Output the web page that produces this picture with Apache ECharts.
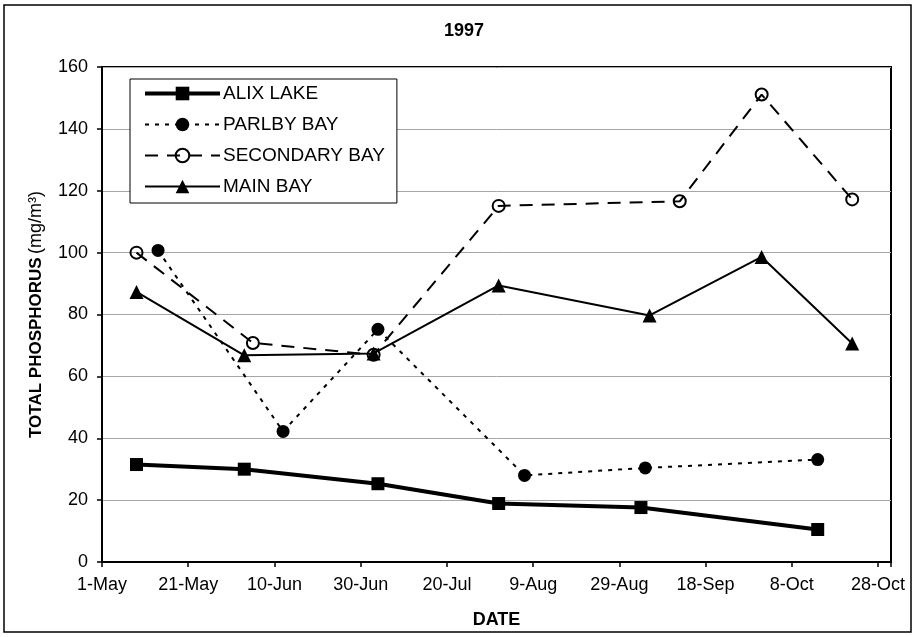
<!DOCTYPE html>
<html>
<head>
<meta charset="utf-8">
<title>1997 Total Phosphorus</title>
<script src="https://cdn.jsdelivr.net/npm/echarts@6/dist/echarts.min.js"></script>
<style>
  html, body { margin: 0; padding: 0; background: #fff; }
  #chart { width: 916px; height: 637px; }
</style>
</head>
<body>
<div id="chart"></div>
<script>
// datos (fechas 1997, valores en mg/m3)
const alixDates = ['1997-05-09', '1997-06-03', '1997-07-04', '1997-08-01', '1997-09-03', '1997-10-14'];
const alixValues = [31.5, 30.0, 25.3, 18.9, 17.6, 10.5];

const parlbyDates = ['1997-05-14', '1997-06-12', '1997-07-04', '1997-08-07', '1997-09-04', '1997-10-14'];
const parlbyValues = [100.7, 42.2, 75.2, 28.0, 30.4, 33.1];

const secondaryDates = ['1997-05-09', '1997-06-05', '1997-07-03', '1997-08-01', '1997-09-12', '1997-10-01', '1997-10-22'];
const secondaryValues = [100.0, 70.8, 67.0, 115.1, 116.6, 151.1, 117.2];

const mainDates = ['1997-05-09', '1997-06-03', '1997-07-03', '1997-08-01', '1997-09-05', '1997-10-01', '1997-10-22'];
const mainValues = [87.3, 66.8, 67.4, 89.4, 79.7, 98.6, 70.6];

const seriesNames = ['ALIX LAKE', 'PARLBY BAY', 'SECONDARY BAY', 'MAIN BAY'];
const monthNames = ['Jan', 'Feb', 'Mar', 'Apr', 'May', 'Jun', 'Jul', 'Aug', 'Sep', 'Oct', 'Nov', 'Dec'];

// el eje x es "dias desde 1-May"
const startDay = Date.UTC(1997, 4, 1);
const DAY = 86400000;

function toDay(s) {
    const p = s.split('-');
    return (Date.UTC(+p[0], +p[1] - 1, +p[2]) - startDay) / DAY;
}

function pairs(dates, values) {
    return dates.map((d, i) => [toDay(d), values[i]]);
}

const FONT = '"Liberation Sans", Arial, sans-serif';

const chart = echarts.init(document.getElementById('chart'));

const option = {
    animation: false,
    backgroundColor: '#fff',
    textStyle: { fontFamily: FONT, color: '#000' },
    title: {
        text: '1997',
        left: 459,
        top: 17,
        textAlign: 'center',
        textStyle: { fontFamily: FONT, fontSize: 18, fontWeight: 'bold', color: '#000' }
    },
    graphic: [{
        type: 'rect',
        shape: { x: 4, y: 5, width: 907, height: 627 },
        style: { fill: 'none', stroke: '#000', lineWidth: 1.5 },
        z: -1
    }],
    grid: {
        left: 102,
        right: 25,
        top: 67,
        bottom: 75,
        show: true,
        borderColor: '#000',
        borderWidth: 2
    },
    legend: {
        orient: 'vertical',
        left: 130,
        top: 79,
        backgroundColor: '#fff',
        borderColor: '#000',
        borderWidth: 1,
        padding: [5, 12, 7, 13],
        itemWidth: 75,
        itemHeight: 17,
        itemGap: 12,
        data: [
            { name: seriesNames[0], lineStyle: { width: 4 } },
            { name: seriesNames[1], lineStyle: { width: 2 } },
            { name: seriesNames[2], lineStyle: { width: 2 } },
            { name: seriesNames[3], lineStyle: { width: 2 } }
        ],
        textStyle: { fontFamily: FONT, fontSize: 19, color: '#000', padding: [0, 0, 0, -2] }
    },
    xAxis: {
        type: 'value',
        min: 0,
        max: 183,
        interval: 20,
        name: 'DATE',
        nameLocation: 'middle',
        nameGap: 49,
        nameTextStyle: { fontFamily: FONT, fontSize: 18, fontWeight: 'bold', color: '#000' },
        axisLine: { show: true, lineStyle: { color: '#000', width: 2 } },
        axisTick: { show: true, length: 5, lineStyle: { color: '#000', width: 1.5 } },
        splitLine: { show: false },
        axisLabel: {
            fontFamily: FONT,
            fontSize: 18,
            color: '#000',
            margin: 14,
            formatter: function (v) {
                if (v > 180) return '';
                const d = new Date(startDay + v * DAY);
                return d.getUTCDate() + '-' + monthNames[d.getUTCMonth()];
            }
        }
    },
    yAxis: {
        type: 'value',
        min: 0,
        max: 160,
        interval: 20,
        name: '{b|TOTAL PHOSPHORUS} {n|(mg/m³)}',
        nameLocation: 'middle',
        nameRotate: 90,
        nameGap: 57,
        nameTextStyle: {
            rich: {
                b: { fontFamily: FONT, fontSize: 17, fontWeight: 'bold', color: '#000' },
                n: { fontFamily: FONT, fontSize: 18, color: '#000' }
            }
        },
        axisLine: { show: true, lineStyle: { color: '#000', width: 2 } },
        axisTick: { show: true, length: 5, lineStyle: { color: '#000', width: 1.5 } },
        splitLine: { show: true, lineStyle: { color: '#a6a6a6', width: 1 } },
        axisLabel: { fontFamily: FONT, fontSize: 18, color: '#000', margin: 14 }
    },
    series: [
        {
            name: 'ALIX LAKE',
            type: 'line',
            data: pairs(alixDates, alixValues),
            symbol: 'rect',
            symbolSize: 13,
            lineStyle: { color: '#000', width: 4 },
            itemStyle: { color: '#000' },
            z: 4
        },
        {
            name: 'PARLBY BAY',
            type: 'line',
            data: pairs(parlbyDates, parlbyValues),
            symbol: 'circle',
            symbolSize: 13,
            lineStyle: { color: '#000', width: 2, type: [4, 6] },
            itemStyle: { color: '#000' },
            z: 3
        },
        {
            name: 'SECONDARY BAY',
            type: 'line',
            data: pairs(secondaryDates, secondaryValues),
            symbol: 'circle',
            symbolSize: 12,
            lineStyle: { color: '#000', width: 2, type: [13, 9] },
            itemStyle: { color: 'rgba(255,255,255,0)', borderColor: '#000', borderWidth: 2 },
            z: 2
        },
        {
            name: 'MAIN BAY',
            type: 'line',
            data: pairs(mainDates, mainValues),
            symbol: 'triangle',
            symbolSize: 14,
            lineStyle: { color: '#000', width: 2 },
            itemStyle: { color: '#000' },
            z: 5
        }
    ]
};

chart.setOption(option);

window.addEventListener('resize', function () {
    chart.resize();
});
</script>
</body>
</html>
